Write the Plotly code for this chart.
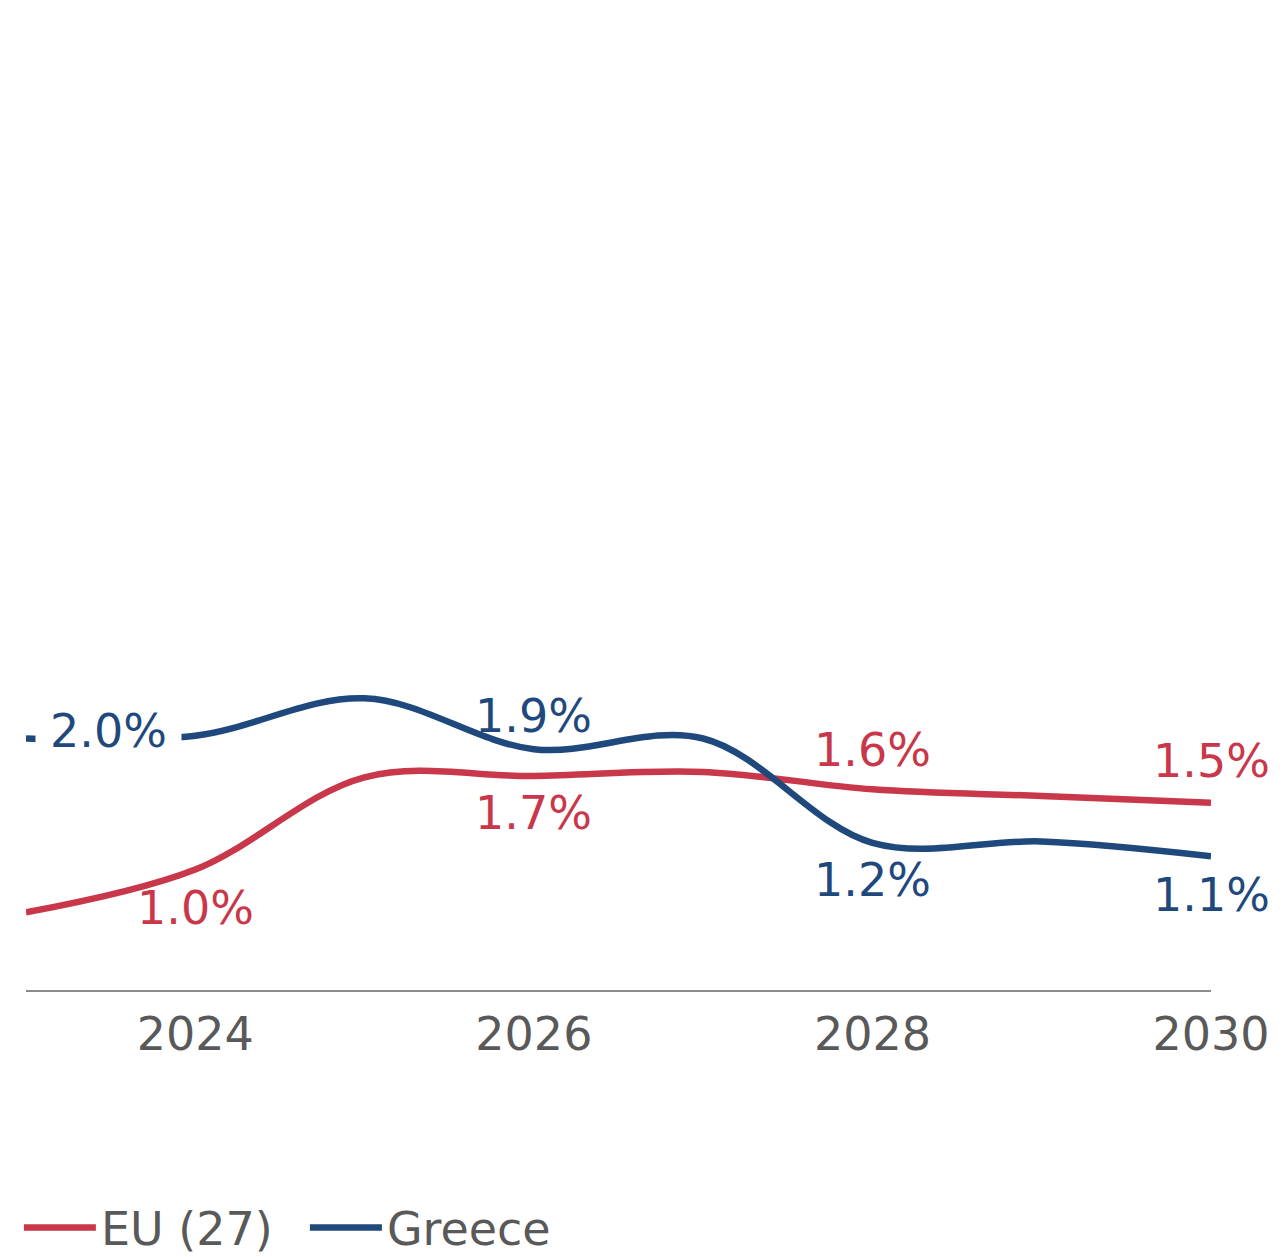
import plotly.graph_objects as go

# GDP growth, annual %, actual and forecast
years = [2023, 2024, 2025, 2026, 2027, 2028, 2029, 2030]
eu_growth = [0.68, 1.0, 1.69, 1.7, 1.73, 1.6, 1.55, 1.5]
greece_growth = [1.98, 2.0, 2.28, 1.9, 1.98, 1.2, 1.21, 1.1]

label_years = [2024, 2026, 2028, 2030]
tick_years = [2024, 2026, 2028, 2030]

EU_COLOR = "#C8374A"
GR_COLOR = "#1F497D"
TEXT_GRAY = "#595959"
FONT = "DejaVu Sans, Verdana, sans-serif"
FONT_SIZE = 46

fig = go.Figure()
fig.add_trace(go.Scatter(
    x=years, y=eu_growth, name="EU (27)", mode="lines",
    line=dict(color=EU_COLOR, width=6.5, shape="spline", smoothing=1.0),
    hoverinfo="skip",
))
fig.add_trace(go.Scatter(
    x=years, y=greece_growth, name="Greece", mode="lines",
    line=dict(color=GR_COLOR, width=6.5, shape="spline", smoothing=1.0),
    hoverinfo="skip",
))

# value labels: per-year placement (xshift, yshift, xanchor, background, padding)
eu_place = {2024: (0, -38, "center", None, 0), 2026: (0, -37, "center", None, 0),
            2028: (0, 39, "center", None, 0), 2030: (0, 42, "center", None, 0)}
gr_place = {2024: (-13, 5, "right", "white", 14), 2026: (0, 33, "center", None, 0),
            2028: (0, -37, "center", None, 0), 2030: (0, -39, "center", None, 0)}

annotations = []
for values, color, place in ((eu_growth, EU_COLOR, eu_place),
                             (greece_growth, GR_COLOR, gr_place)):
    for yr in label_years:
        v = values[years.index(yr)]
        xs, ys, xa, bg, pad = place[yr]
        annotations.append(dict(
            x=yr, y=v, xref="x", yref="y", text=f"{v:.1f}%",
            showarrow=False, xanchor=xa, yanchor="middle",
            xshift=xs, yshift=ys, bgcolor=bg, borderpad=pad,
            font=dict(family=FONT, size=FONT_SIZE, color=color),
        ))

fig.update_layout(
    width=1285, height=1257,
    margin=dict(l=26, r=74, t=0, b=267),
    paper_bgcolor="white", plot_bgcolor="white",
    font=dict(family=FONT, size=FONT_SIZE, color=TEXT_GRAY),
    showlegend=True,
    legend=dict(orientation="h", xref="paper", x=-0.006, xanchor="left",
                yref="container", y=0.0525, yanchor="top",
                font=dict(family=FONT, size=FONT_SIZE, color=TEXT_GRAY),
                itemwidth=72, entrywidth=199, entrywidthmode="pixels",
                tracegroupgap=0, bgcolor="rgba(0,0,0,0)"),
    annotations=annotations,
    xaxis=dict(range=[2023, 2030], tickvals=tick_years, ticktext=[str(t) for t in tick_years],
               showgrid=False, zeroline=False, showline=True, linecolor="#8C8C8C", linewidth=2,
               ticks="", ticklabelstandoff=3,
               tickfont=dict(family=FONT, size=FONT_SIZE, color=TEXT_GRAY)),
    yaxis=dict(range=[0.1, 7.5], visible=False, showgrid=False, zeroline=False),
)

fig.write_html("out.html")
